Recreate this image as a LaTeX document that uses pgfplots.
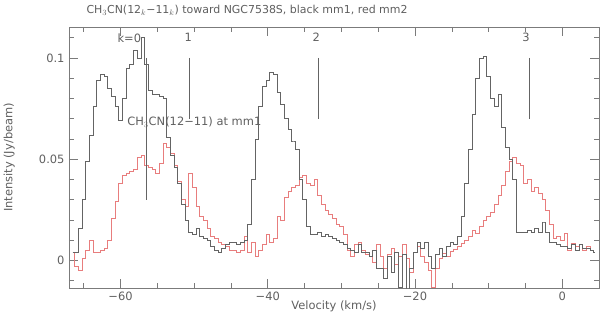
\documentclass[border=0pt]{standalone}
\usepackage{fontspec}
\setmainfont{DejaVu Sans}
\usepackage{pgfplots}
\usepackage{pgfplotstable}
\pgfplotsset{compat=1.18}

\definecolor{mmone}{RGB}{100,100,100}
\definecolor{mmtwo}{RGB}{232,125,125}
\definecolor{txt}{RGB}{95,95,95}

% mm1 (black), channel centres in km/s
\pgfplotstableread{
v I
-66.5 0.004
-66.0 0.004
-65.5 0.016
-65.0 0.030
-64.5 0.049
-64.0 0.062
-63.5 0.076
-63.0 0.089
-62.5 0.092
-62.0 0.091
-61.5 0.085
-61.0 0.081
-60.5 0.076
-60.0 0.069
-59.5 0.080
-59.0 0.095
-58.5 0.097
-58.0 0.104
-57.5 0.100
-57.0 0.110
-56.5 0.097
-56.0 0.084
-55.5 0.082
-55.0 0.082
-54.5 0.081
-54.0 0.080
-53.5 0.061
-53.0 0.052
-52.5 0.046
-52.0 0.038
-51.5 0.028
-51.0 0.020
-50.5 0.014
-50.0 0.013
-49.5 0.016
-49.0 0.012
-48.5 0.011
-48.0 0.010
-47.5 0.007
-47.0 0.005
-46.5 0.004
-46.0 0.006
-45.5 0.008
-45.0 0.009
-44.5 0.009
-44.0 0.008
-43.5 0.009
-43.0 0.010
-42.5 0.018
-42.0 0.040
-41.5 0.060
-41.0 0.076
-40.5 0.086
-40.0 0.089
-39.5 0.093
-39.0 0.092
-38.5 0.083
-38.0 0.077
-37.5 0.070
-37.0 0.065
-36.5 0.059
-36.0 0.055
-35.5 0.040
-35.0 0.030
-34.5 0.017
-34.0 0.013
-33.5 0.013
-33.0 0.014
-32.5 0.012
-32.0 0.013
-31.5 0.012
-31.0 0.011
-30.5 0.010
-30.0 0.009
-29.5 0.008
-29.0 0.006
-28.5 0.005
-28.0 0.004
-27.5 0.008
-27.0 0.004
-26.5 0.004
-26.0 0.002
-25.5 0.005
-25.0 -0.004
-24.5 -0.004
-24.0 -0.009
-23.5 0.002
-23.0 -0.006
-22.5 0.004
-22.0 -0.013
-21.5 0.003
-21.0 -0.014
-20.5 -0.004
-20.0 0.004
-19.5 0.009
-19.0 0.006
-18.5 0.009
-18.0 0.002
-17.5 -0.004
-17.0 0.003
-16.5 0.006
-16.0 0.002
-15.5 0.007
-15.0 0.009
-14.5 0.008
-14.0 0.012
-13.5 0.022
-13.0 0.038
-12.5 0.055
-12.0 0.072
-11.5 0.090
-11.0 0.100
-10.5 0.101
-10.0 0.091
-9.5 0.080
-9.0 0.076
-8.5 0.082
-8.0 0.066
-7.5 0.056
-7.0 0.050
-6.5 0.040
-6.0 0.014
-5.5 0.014
-5.0 0.014
-4.5 0.015
-4.0 0.014
-3.5 0.016
-3.0 0.014
-2.5 0.019
-2.0 0.014
-1.5 0.009
-1.0 0.009
-0.5 0.008
0.0 0.007
0.5 0.007
1.0 0.006
1.5 0.008
2.0 0.005
2.5 0.008
3.0 0.006
3.5 0.006
4.0 0.005
4.5 0.004
}\mmone

% mm2 (red)
\pgfplotstableread{
v I
-66.5 0.004
-66.0 -0.003
-65.5 -0.005
-65.0 0.001
-64.5 0.005
-64.0 0.010
-63.5 0.004
-63.0 0.004
-62.5 0.005
-62.0 0.006
-61.5 0.010
-61.0 0.021
-60.5 0.029
-60.0 0.038
-59.5 0.042
-59.0 0.043
-58.5 0.044
-58.0 0.045
-57.5 0.051
-57.0 0.052
-56.5 0.047
-56.0 0.046
-55.5 0.045
-55.0 0.043
-54.5 0.048
-54.0 0.058
-53.5 0.056
-53.0 0.053
-52.5 0.047
-52.0 0.039
-51.5 0.030
-51.0 0.027
-50.5 0.043
-50.0 0.036
-49.5 0.027
-49.0 0.022
-48.5 0.020
-48.0 0.016
-47.5 0.012
-47.0 0.011
-46.5 0.009
-46.0 0.008
-45.5 0.007
-45.0 0.005
-44.5 0.005
-44.0 0.004
-43.5 0.005
-43.0 0.012
-42.5 0.004
-42.0 0.009
-41.5 0.002
-41.0 0.005
-40.5 0.008
-40.0 0.013
-39.5 0.009
-39.0 0.011
-38.5 0.022
-38.0 0.020
-37.5 0.031
-37.0 0.034
-36.5 0.036
-36.0 0.037
-35.5 0.041
-35.0 0.042
-34.5 0.038
-34.0 0.037
-33.5 0.040
-33.0 0.032
-32.5 0.028
-32.0 0.025
-31.5 0.023
-31.0 0.021
-30.5 0.018
-30.0 0.017
-29.5 0.013
-29.0 0.005
-28.5 0.002
-28.0 0.008
-27.5 0.009
-27.0 0.005
-26.5 0.003
-26.0 0.002
-25.5 -0.001
-25.0 0.008
-24.5 0.002
-24.0 -0.004
-23.5 0.003
-23.0 0.006
-22.5 -0.002
-22.0 0.002
-21.5 0.008
-21.0 0.001
-20.5 -0.006
-20.0 0.004
-19.5 0.007
-19.0 0.002
-18.5 -0.001
-18.0 -0.005
-17.5 -0.013
-17.0 -0.004
-16.5 0.001
-16.0 0.0035
-15.5 0.002
-15.0 0.0045
-14.5 0.0055
-14.0 0.007
-13.5 0.0086
-13.0 0.010
-12.5 0.012
-12.0 0.015
-11.5 0.0135
-11.0 0.017
-10.5 0.020
-10.0 0.022
-9.5 0.024
-9.0 0.028
-8.5 0.032
-8.0 0.037
-7.5 0.044
-7.0 0.049
-6.5 0.051
-6.0 0.048
-5.5 0.047
-5.0 0.038
-4.5 0.040
-4.0 0.034
-3.5 0.036
-3.0 0.033
-2.5 0.030
-2.0 0.025
-1.5 0.018
-1.0 0.011
-0.5 0.012
0.0 0.010
0.5 0.0135
1.0 0.005
1.5 0.0086
2.0 0.007
2.5 0.008
3.0 0.005
3.5 0.007
4.0 0.005
4.5 0.004
}\mmtwo

\begin{document}
\begin{tikzpicture}
\path[use as bounding box] (-69bp,-27bp) rectangle (531bp,288bp);
\begin{axis}[
    scale only axis, width=530bp, height=261bp,
    xmin=-67, xmax=5, ymin=-0.0136, ymax=0.1153,
    font=\fontsize{11.5}{13}\selectfont\color{txt},
    axis line style={mmone!85, line width=0.5bp},
    tick style={mmone!85, line width=0.5bp},
    tick align=inside, tick pos=both,
    xticklabel pos=lower, yticklabel pos=left,
    major tick length=9bp, minor tick length=5bp,
    xtick={-60,-40,-20,0}, xticklabels={−60,−40,−20,0},
    minor xtick={-65,-55,-50,-45,-35,-30,-25,-15,-10,-5,5},
    ytick={0,0.05,0.1}, yticklabels={0,0.05,0.1},
    minor ytick={-0.01,0.01,0.02,0.03,0.04,0.06,0.07,0.08,0.09,0.11},
    scaled y ticks=false,
    yticklabel style={xshift=-1bp},
    xlabel={Velocity (km/s)},
    ylabel={Intensity (Jy/beam)},
    every axis x label/.style={at={(axis description cs:0.5,-0.071)}, anchor=center},
    every axis y label/.style={at={(axis description cs:-0.113,0.5)}, rotate=90, anchor=center},
    title={CH$_3$CN(12$_k$−11$_k$) toward NGC7538S, black mm1, red mm2},
    title style={at={(axis description cs:0.0264,1.04)}, anchor=west, font=\fontsize{11}{13}\selectfont\color{txt}},
    clip=true,
]
\addplot[mmtwo, line width=0.5bp, const plot mark mid] table[x=v, y=I] {\mmtwo};
\addplot[mmone, line width=0.5bp, const plot mark mid] table[x=v, y=I] {\mmone};
% K-component markers
\addplot[mmone, line width=0.5bp] coordinates {(-56.5,0.100) (-56.5,0.030)};
\addplot[mmone, line width=0.5bp] coordinates {(-50.6,0.100) (-50.6,0.070)};
\addplot[mmone, line width=0.5bp] coordinates {(-33.2,0.100) (-33.2,0.070)};
\addplot[mmone, line width=0.5bp] coordinates {(-4.5,0.100) (-4.5,0.070)};
\node[txt] at (axis cs:-58.8,0.110) {k=0};
\node[txt] at (axis cs:-50.8,0.110) {1};
\node[txt] at (axis cs:-33.4,0.110) {2};
\node[txt] at (axis cs:-4.9,0.110) {3};
\node[txt, anchor=west, inner sep=0pt] at (axis cs:-59.1,0.0684) {CH$_3$CN(12−11) at mm1};
\end{axis}
\end{tikzpicture}
\end{document}
